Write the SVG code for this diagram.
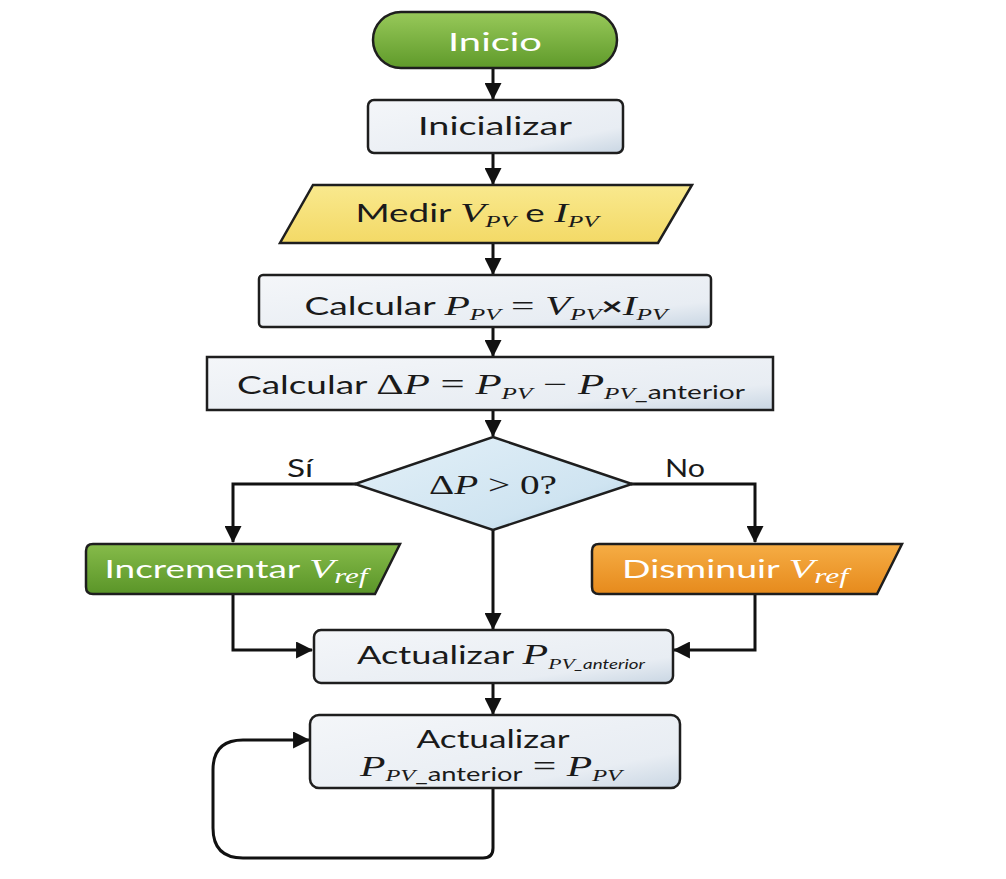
<svg xmlns="http://www.w3.org/2000/svg" width="1006" height="879" viewBox="0 0 1006 879">
<defs>
<linearGradient id="gBox" x1="0" y1="0" x2="1" y2="1">
<stop offset="0" stop-color="#f4f6f9"/><stop offset="0.75" stop-color="#e8edf3"/><stop offset="1" stop-color="#c9d6e3"/>
</linearGradient>
<linearGradient id="gGreen" x1="0" y1="0" x2="0" y2="1">
<stop offset="0" stop-color="#98c95a"/><stop offset="1" stop-color="#5f9a2a"/>
</linearGradient>
<linearGradient id="gGreen2" x1="0" y1="0" x2="0" y2="1">
<stop offset="0" stop-color="#86bb4a"/><stop offset="1" stop-color="#5a9528"/>
</linearGradient>
<linearGradient id="gYellow" x1="0" y1="0" x2="0" y2="1">
<stop offset="0" stop-color="#f9e98e"/><stop offset="1" stop-color="#f3d966"/>
</linearGradient>
<linearGradient id="gOrange" x1="0" y1="0" x2="0" y2="1">
<stop offset="0" stop-color="#f6ad45"/><stop offset="1" stop-color="#e68a1c"/>
</linearGradient>
<linearGradient id="gBlue" x1="0" y1="0" x2="1" y2="1">
<stop offset="0" stop-color="#e3f0f8"/><stop offset="0.7" stop-color="#cfe4f1"/><stop offset="1" stop-color="#b4d0e4"/>
</linearGradient>
<marker id="ahL" viewBox="0 0 16 16" refX="15" refY="8" markerWidth="17" markerHeight="17" markerUnits="userSpaceOnUse" orient="auto">
<path d="M0,0 L16,8 L0,16 Z" fill="#111"/>
</marker>
</defs>
<style>
.shape{stroke:#1e1e1e;stroke-width:2.5}
.conn{fill:none;stroke:#111;stroke-width:3}
.t{font-family:"Lato","Open Sans","Liberation Sans",sans-serif;font-size:25px;fill:#1a1a1a}
.w{fill:#ffffff}
.m{font-family:"Liberation Serif","DejaVu Serif",serif;font-style:italic}
.u{font-family:"Liberation Serif","DejaVu Serif",serif;font-style:normal}
.sub{font-size:17px}
</style>
<rect width="1006" height="879" fill="#ffffff"/>

<g id="connectors">
<line class="conn" x1="493" y1="68" x2="493" y2="99" marker-end="url(#ahL)"/>
<line class="conn" x1="493" y1="153" x2="493" y2="184" marker-end="url(#ahL)"/>
<line class="conn" x1="493" y1="243" x2="493" y2="274" marker-end="url(#ahL)"/>
<line class="conn" x1="493" y1="327" x2="493" y2="356" marker-end="url(#ahL)"/>
<line class="conn" x1="493" y1="410" x2="493" y2="436" marker-end="url(#ahL)"/>
<polyline class="conn" points="356,484 233,484 233,542" marker-end="url(#ahL)"/>
<polyline class="conn" points="631,484 755,484 755,542" marker-end="url(#ahL)"/>
<line class="conn" x1="493" y1="530" x2="493" y2="629" marker-end="url(#ahL)"/>
<polyline class="conn" points="233,595 233,650 312,650" marker-end="url(#ahL)"/>
<polyline class="conn" points="755,595 755,650 674,650" marker-end="url(#ahL)"/>
<line class="conn" x1="493" y1="683" x2="493" y2="714" marker-end="url(#ahL)"/>
<path class="conn" d="M493,788 L493,848 Q493,858 483,858 L243,858 Q213,858 213,828 L213,770 Q213,740 243,740 L309,740" marker-end="url(#ahL)"/>
</g>

<g id="inicio">
<rect class="shape" x="373" y="12" width="244" height="56" rx="28" fill="url(#gGreen)"/>
<text class="t w" x="495" y="51" text-anchor="middle" font-size="27" textLength="94" lengthAdjust="spacingAndGlyphs">Inicio</text>
</g>

<g id="inicializar">
<rect class="shape" x="368" y="100" width="255" height="53" rx="6" fill="url(#gBox)"/>
<text class="t" x="495" y="135" text-anchor="middle" textLength="154" lengthAdjust="spacingAndGlyphs">Inicializar</text>
</g>

<g id="medir">
<polygon class="shape" points="313,185 692,185 658,243 280,243" fill="url(#gYellow)"/>
<text class="t" x="477" y="222" text-anchor="middle" textLength="243" lengthAdjust="spacingAndGlyphs">Medir <tspan class="m" font-size="28">V</tspan><tspan class="m sub" dy="5">PV</tspan><tspan dy="-5"> e </tspan><tspan class="m" font-size="28">I</tspan><tspan class="m sub" dy="5">PV</tspan></text>
</g>

<g id="calcular-ppv">
<rect class="shape" x="259" y="275" width="452" height="52" rx="4" fill="url(#gBox)"/>
<text class="t" x="486" y="315" text-anchor="middle" textLength="363" lengthAdjust="spacingAndGlyphs">Calcular <tspan class="m" font-size="28">P</tspan><tspan class="m sub" dy="5">PV</tspan><tspan class="u" dy="-5" font-size="28"> = </tspan><tspan class="m" font-size="28">V</tspan><tspan class="m sub" dy="5">PV</tspan><tspan dy="-5" font-weight="bold">×</tspan><tspan class="m" font-size="28">I</tspan><tspan class="m sub" dy="5">PV</tspan></text>
</g>

<g id="calcular-dp">
<rect class="shape" x="207" y="357" width="566" height="53" fill="url(#gBox)"/>
<text class="t" x="491" y="394" text-anchor="middle" textLength="508" lengthAdjust="spacingAndGlyphs">Calcular <tspan class="u" font-size="29">Δ</tspan><tspan class="m" font-size="29">P</tspan><tspan class="u" font-size="29"> = </tspan><tspan class="m" font-size="29">P</tspan><tspan class="m sub" dy="5">PV</tspan><tspan class="u" dy="-5" font-size="29"> − </tspan><tspan class="m" font-size="29">P</tspan><tspan class="m sub" dy="5">PV</tspan><tspan font-size="19">_anterior</tspan></text>
</g>

<g id="decision">
<polygon class="shape" points="493,437 632,484 493,530 355,484" fill="url(#gBlue)"/>
<text class="u" x="493" y="494" text-anchor="middle" font-family="Liberation Serif, serif" font-size="28" fill="#1a1a1a" textLength="128" lengthAdjust="spacingAndGlyphs">Δ<tspan class="m">P</tspan> &gt; 0?</text>
<text class="t" x="300" y="477" text-anchor="middle" font-size="23" textLength="26" lengthAdjust="spacingAndGlyphs">Sí</text>
<text class="t" x="685" y="477" text-anchor="middle" font-size="23" textLength="40" lengthAdjust="spacingAndGlyphs">No</text>
</g>

<g id="incrementar">
<path class="shape" d="M93,544 L400,544 L375,594 L93,594 Q86,594 86,587 L86,551 Q86,544 93,544 Z" fill="url(#gGreen2)"/>
<text class="t w" x="236" y="578" text-anchor="middle" textLength="263" lengthAdjust="spacingAndGlyphs">Incrementar <tspan class="m" font-size="28">V</tspan><tspan class="m" font-size="21" dy="5">ref</tspan></text>
</g>

<g id="disminuir">
<path class="shape" d="M599,544 L902,544 L877,594 L599,594 Q592,594 592,587 L592,551 Q592,544 599,544 Z" fill="url(#gOrange)"/>
<text class="t w" x="735" y="578" text-anchor="middle" textLength="226" lengthAdjust="spacingAndGlyphs">Disminuir <tspan class="m" font-size="28">V</tspan><tspan class="m" font-size="21" dy="5">ref</tspan></text>
</g>

<g id="actualizar1">
<rect class="shape" x="314" y="630" width="359" height="53" rx="7" fill="url(#gBox)"/>
<text class="t" x="501" y="664" text-anchor="middle" textLength="288" lengthAdjust="spacingAndGlyphs">Actualizar <tspan class="m" font-size="29">P</tspan><tspan class="m" font-size="15" dy="5">PV</tspan><tspan font-size="13" font-style="italic">_anterior</tspan></text>
</g>

<g id="actualizar2">
<rect class="shape" x="310" y="715" width="370" height="73" rx="9" fill="url(#gBox)"/>
<text class="t" x="493" y="748" text-anchor="middle" textLength="153" lengthAdjust="spacingAndGlyphs">Actualizar</text>
<text class="t" x="491" y="776" text-anchor="middle" textLength="262" lengthAdjust="spacingAndGlyphs"><tspan class="m" font-size="29">P</tspan><tspan class="m sub" dy="5">PV</tspan><tspan font-size="19">_anterior</tspan><tspan class="u" dy="-5" font-size="29"> = </tspan><tspan class="m" font-size="29">P</tspan><tspan class="m sub" dy="5">PV</tspan></text>
</g>
</svg>
